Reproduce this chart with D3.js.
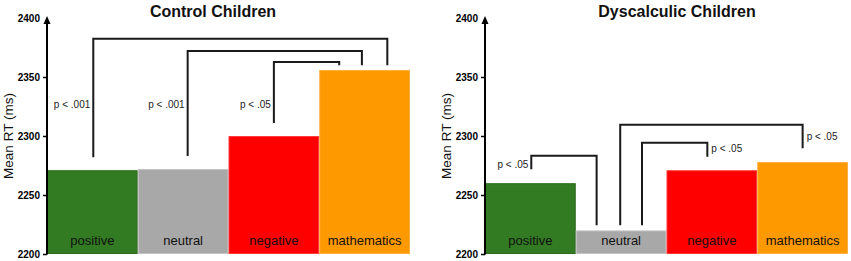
<!DOCTYPE html>
<html>
<head>
<meta charset="utf-8">
<script src="https://cdn.jsdelivr.net/npm/d3@7"></script>
<style>
  body { margin: 0; background: #fff; }
  svg { display: block; font-family: Arial, "Liberation Sans", sans-serif; }
</style>
</head>
<body>
<div id="chart"></div>
<script>
// Values
const categories = ['positive', 'neutral', 'negative', 'mathematics'];
const controlRT = [2271, 2272, 2300, 2356];
const dyscalculicRT = [2260, 2220, 2271, 2278];
const yTicks = [2200, 2250, 2300, 2350, 2400];
const barColors = ['#337b22', '#a8a8a8', '#ff0000', '#ff9900'];
const barStrokes = ['#2b6a1c', '#c4c4c4', '#ff3b3b', '#ffb040'];

// significance brackets: legs in data units, anchor = fraction inside band
const controlBrackets = [
  { from: 'positive', fromAt: 0.51, fromY: 2282, to: 'mathematics', toAt: 0.75, toY: 2360, top: 2382.5, label: 'p < .001', side: 'left', labelY: 2327 },
  { from: 'neutral', fromAt: 0.55, fromY: 2283, to: 'mathematics', toAt: 0.47, toY: 2360, top: 2372, label: 'p < .001', side: 'left', labelY: 2327 },
  { from: 'negative', fromAt: 0.5, fromY: 2311, to: 'mathematics', toAt: 0.22, toY: 2360, top: 2362.7, label: 'p < .05', side: 'left', labelY: 2327 }
];
const dyscalculicBrackets = [
  { from: 'positive', fromAt: 0.51, fromY: 2271.8, to: 'neutral', toAt: 0.23, toY: 2224.3, top: 2283.3, label: 'p < .05', side: 'left', labelY: 2276 },
  { from: 'neutral', fromAt: 0.49, fromY: 2224.3, to: 'mathematics', toAt: 0.5, toY: 2289.6, top: 2309.6, label: 'p < .05', side: 'right', labelY: 2300 },
  { from: 'neutral', fromAt: 0.73, fromY: 2224.3, to: 'negative', toAt: 0.45, toY: 2282.5, top: 2294.3, label: 'p < .05', side: 'right', labelY: 2289 }
];

const width = 851, height = 261;

const svg = d3.select('#chart').append('svg')
  .attr('width', width)
  .attr('height', height);

function drawPanel(cfg) {
  const g = svg.append('g');

  const x = d3.scaleBand().domain(categories).range([cfg.x0, cfg.x1]).padding(0);
  const y = d3.scaleLinear().domain([2200, 2400]).range([254, 18]);

  const rows = categories.map((c, i) => ({ cat: c, value: cfg.values[i], color: barColors[i], stroke: barStrokes[i] }));

  // bars
  g.selectAll('.bar')
    .data(rows)
    .join('rect')
      .attr('class', 'bar')
      .attr('x', d => x(d.cat) + 0.5)
      .attr('y', d => y(d.value) + 0.5)
      .attr('width', x.bandwidth() - 1)
      .attr('height', d => y(2200) - y(d.value) - 1)
      .attr('fill', d => d.color)
      .attr('stroke', d => d.stroke)
      .attr('stroke-width', 1);

  // category labels inside bars
  g.selectAll('.cat-label')
    .data(rows)
    .join('text')
      .attr('class', 'cat-label')
      .attr('x', d => x(d.cat) + x.bandwidth() / 2)
      .attr('y', 245)
      .attr('text-anchor', 'middle')
      .attr('font-size', '13px')
      .attr('fill', '#111')
      .text(d => d.cat);

  // y axis ticks and labels
  const axis = d3.axisLeft(y).tickValues(yTicks).tickSize(4).tickPadding(3).tickFormat(d3.format('d'));
  const axG = g.append('g')
    .attr('transform', `translate(${cfg.x0},0)`)
    .call(axis);
  axG.select('.domain').remove();
  axG.selectAll('.tick line').attr('stroke', '#000').attr('stroke-width', 1.5)
    .filter(d => d === 2400).remove();
  axG.selectAll('.tick text')
    .attr('fill', '#000')
    .attr('font-size', '10px')
    .attr('font-weight', 'bold')
    .attr('font-family', 'Arial, "Liberation Sans", sans-serif');

  // axis line with arrowhead
  const tipY = y(2400) - 2;
  g.append('line')
    .attr('x1', cfg.x0).attr('x2', cfg.x0)
    .attr('y1', y(2200) + 0.5).attr('y2', tipY + 5)
    .attr('stroke', '#000').attr('stroke-width', 2);
  g.append('path')
    .attr('d', `M${cfg.x0},${tipY} L${cfg.x0 - 3.5},${tipY + 8} L${cfg.x0 + 3.5},${tipY + 8} Z`)
    .attr('fill', '#000');

  // y axis title
  g.append('text')
    .attr('transform', `translate(${cfg.x0 - 34},${(y(2200) + y(2400)) / 2}) rotate(-90)`)
    .attr('text-anchor', 'middle')
    .attr('font-size', '13.5px')
    .attr('fill', '#111')
    .text('Mean RT (ms)');

  // panel title
  g.append('text')
    .attr('x', cfg.titleX)
    .attr('y', 17)
    .attr('text-anchor', 'middle')
    .attr('font-size', '16px')
    .attr('font-weight', 'bold')
    .attr('fill', '#111')
    .text(cfg.title);

  // significance brackets
  const bx = (cat, at) => x(cat) + at * x.bandwidth();
  g.selectAll('.bracket')
    .data(cfg.brackets)
    .join('path')
      .attr('class', 'bracket')
      .attr('d', b => `M${bx(b.from, b.fromAt)},${y(b.fromY)} V${y(b.top)} H${bx(b.to, b.toAt)} V${y(b.toY)}`)
      .attr('fill', 'none')
      .attr('stroke', '#1a1a1a')
      .attr('stroke-width', 2);

  g.selectAll('.p-label')
    .data(cfg.brackets)
    .join('text')
      .attr('class', 'p-label')
      .attr('x', b => b.side === 'left' ? bx(b.from, b.fromAt) - 3 : bx(b.to, b.toAt) + 4)
      .attr('y', b => y(b.labelY) + 3.5)
      .attr('text-anchor', b => b.side === 'left' ? 'end' : 'start')
      .attr('font-size', '10px')
      .attr('fill', '#222')
      .text(b => b.label);
}

drawPanel({ x0: 47, x1: 410, values: controlRT, brackets: controlBrackets, title: 'Control Children', titleX: 213 });
drawPanel({ x0: 485, x1: 848, values: dyscalculicRT, brackets: dyscalculicBrackets, title: 'Dyscalculic Children', titleX: 677 });
</script>
</body>
</html>
